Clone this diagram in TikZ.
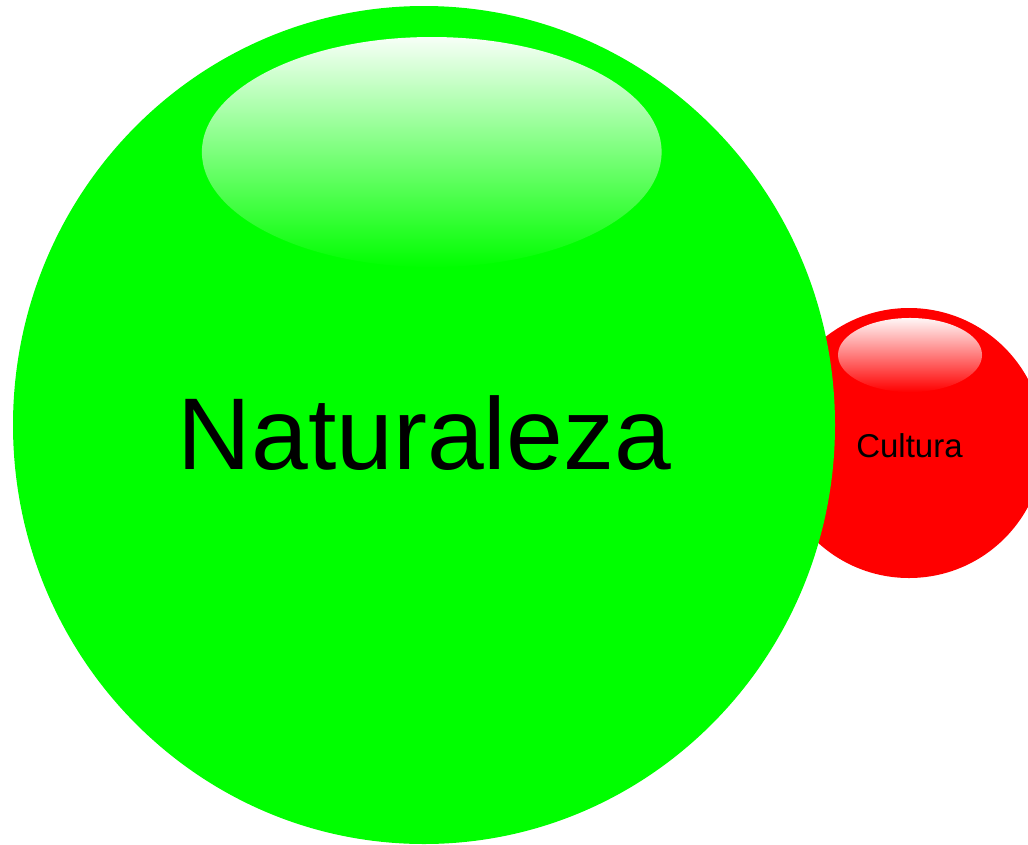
\documentclass[tikz,border=0pt]{standalone}
\usepackage{fontspec}
\setmainfont{Liberation Sans}
\usetikzlibrary{fadings}
\definecolor{ballgreen}{HTML}{00FF00}
\definecolor{ballred}{HTML}{FF0000}
\tikzfading[name=glarefade, top color=transparent!3, bottom color=transparent!100]
\tikzset{glare/.style={fill=white, path fading=glarefade}}
\begin{document}
\begin{tikzpicture}[x=1pt,y=-1pt]
\useasboundingbox (0,0) rectangle (1028,844);
\clip (0,0) rectangle (1028,844);
% red ball (behind)
\fill[ballred] (909,443) ellipse [x radius=135, y radius=135];
\fill[glare] (910,355) ellipse [x radius=72, y radius=37];
\node (cultura) at (909.5,446) {\fontsize{33}{38}\selectfont Cultura};
% green ball
\fill[ballgreen] (424,425) ellipse [x radius=411, y radius=419];
\fill[glare] (432,152) ellipse [x radius=230, y radius=115];
\node (naturaleza) at (424.5,433) {\fontsize{102}{110}\selectfont Naturaleza};
\end{tikzpicture}
\end{document}
